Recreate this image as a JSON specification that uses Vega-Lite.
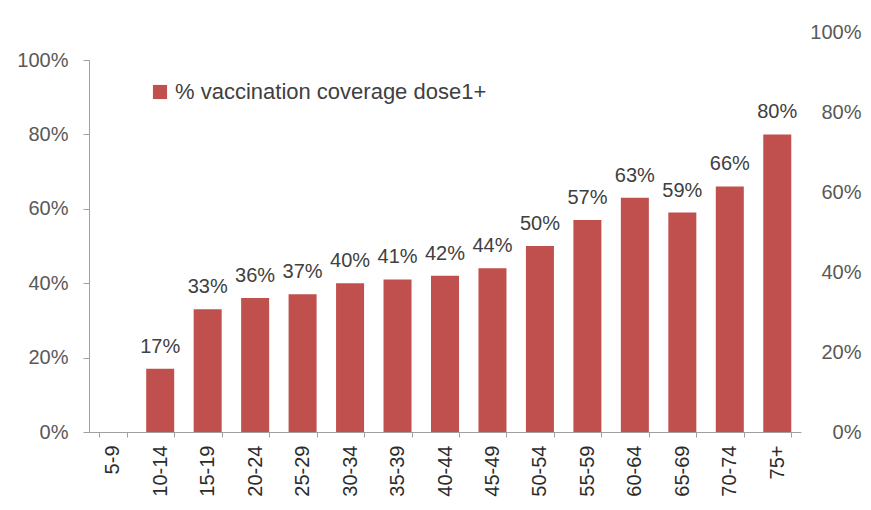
{
  "$schema": "https://vega.github.io/schema/vega-lite/v6.json",
  "width": 712,
  "height": 372,
  "autosize": {"type": "none"},
  "padding": {"left": 89, "top": 60, "right": 70, "bottom": 78},
  "background": "white",
  "config": {"view": {"stroke": null}, "font": "Liberation Sans"},
  "data": {
    "values": [
      {"age": "5-9", "v": null},
      {"age": "10-14", "v": 0.17},
      {"age": "15-19", "v": 0.33},
      {"age": "20-24", "v": 0.36},
      {"age": "25-29", "v": 0.37},
      {"age": "30-34", "v": 0.40},
      {"age": "35-39", "v": 0.41},
      {"age": "40-44", "v": 0.42},
      {"age": "45-49", "v": 0.44},
      {"age": "50-54", "v": 0.50},
      {"age": "55-59", "v": 0.57},
      {"age": "60-64", "v": 0.63},
      {"age": "65-69", "v": 0.59},
      {"age": "70-74", "v": 0.66},
      {"age": "75+", "v": 0.80}
    ]
  },
  "layer": [
    {
      "encoding": {
        "x": {
          "field": "age", "type": "nominal", "sort": null,
          "scale": {"domain": ["5-9", "10-14", "15-19", "20-24", "25-29", "30-34", "35-39", "40-44", "45-49", "50-54", "55-59", "60-64", "65-69", "70-74", "75+"],
                    "paddingInner": 0.41, "paddingOuter": 0.205},
          "axis": {"title": null, "labelAngle": -90, "tickBand": "extent", "labelPadding": 8, "tickSize": 5,
                   "domainColor": "#A0A0A0", "tickColor": "#A0A0A0", "labelFontSize": 20, "labelColor": "#2b2b2b", "labelOverlap": false}
        },
        "y": {
          "field": "v", "type": "quantitative",
          "scale": {"domain": [0, 1], "nice": false},
          "axis": {"title": null, "values": [0, 0.2, 0.4, 0.6, 0.8, 1], "format": ".0%", "grid": false, "tickSize": 6, "labelPadding": 15,
                   "domainColor": "#A0A0A0", "tickColor": "#A0A0A0", "labelFontSize": 20, "labelColor": "#595959"}
        }
      },
      "layer": [
        {
          "mark": {"type": "bar", "color": "#C0504D"},
          "encoding": {
            "color": {"datum": "% vaccination coverage dose1+", "type": "nominal", "scale": {"range": ["#C0504D"]},
                      "legend": {"orient": "none", "legendX": 60, "legendY": 21, "title": null, "symbolType": "square", "symbolSize": 200,
                                 "labelFontSize": 22, "labelColor": "#404040", "labelLimit": 500, "padding": 0, "symbolStrokeWidth": 0}}
          }
        },
        {
          "mark": {"type": "text", "dy": -16, "baseline": "alphabetic", "fontSize": 20, "color": "#404040"},
          "encoding": {"text": {"field": "v", "type": "quantitative", "format": ".0%"}}
        }
      ]
    },
    {
      "mark": {"type": "point", "opacity": 0},
      "encoding": {
        "y": {
          "field": "v", "type": "quantitative",
          "scale": {"domain": [0, 1], "range": [372, -28], "nice": false, "zero": true},
          "axis": {"orient": "right", "title": null, "values": [0, 0.2, 0.4, 0.6, 0.8, 1], "format": ".0%", "grid": false, "domain": false, "ticks": false,
                   "labelAlign": "right", "labelPadding": 60, "labelFontSize": 20, "labelColor": "#595959"}
        }
      }
    }
  ],
  "resolve": {"scale": {"y": "independent"}, "axis": {"y": "independent"}}
}
